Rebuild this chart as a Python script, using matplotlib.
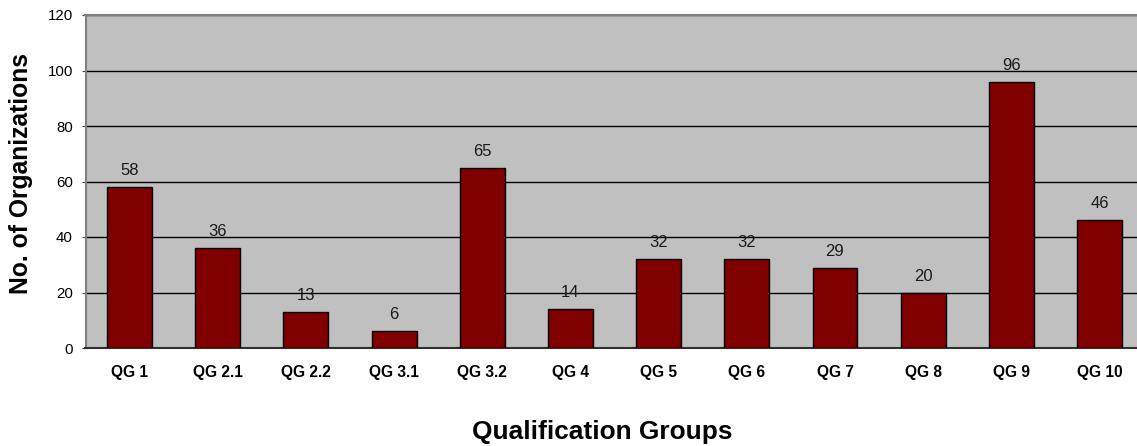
import matplotlib
matplotlib.use("Agg")
import matplotlib.pyplot as plt

categories = ["QG 1", "QG 2.1", "QG 2.2", "QG 3.1", "QG 3.2", "QG 4",
              "QG 5", "QG 6", "QG 7", "QG 8", "QG 9", "QG 10"]
values = [58, 36, 13, 6, 65, 14, 32, 32, 29, 20, 96, 46]
yticks = [0, 20, 40, 60, 80, 100, 120]

plt.rcParams['font.family'] = ['Liberation Sans', 'DejaVu Sans']

fig = plt.figure(figsize=(11.37, 4.46), dpi=100)
W, H = 1137, 446
left, right, top, bottom = 85.5, 1143.6, 15, 348
ax = fig.add_axes([left / W, 1 - bottom / H, (right - left) / W, (bottom - top) / H])
ax.set_facecolor('#C0C0C0')

x = list(range(len(categories)))
ax.bar(x, values, width=0.51, color='#800000', edgecolor='black', linewidth=1.0, zorder=3)
ax.set_xlim(-0.5, len(categories) - 0.5)
ax.set_ylim(0, 120)
ax.set_yticks(yticks)
ax.yaxis.grid(True, color='black', linewidth=1.0, zorder=1)
ax.set_axisbelow(True)

for xi, v in zip(x, values):
    ax.annotate(str(v), (xi, v), xytext=(0, 8.6), textcoords='offset points',
                ha='center', va='baseline', fontsize=12, color='#1a1a1a', zorder=4)

ax.set_xticks(x)
ax.set_xticklabels(categories, fontsize=11.2, fontweight='bold')
ax.tick_params(axis='x', length=0, pad=12)
ax.tick_params(axis='y', length=3, color='#404040', labelsize=10.8, pad=6)

for s in ['left', 'top']:
    ax.spines[s].set_color('#808080')
    ax.spines[s].set_linewidth(1.5)
ax.spines['bottom'].set_color('#303030')
ax.spines['bottom'].set_linewidth(1.5)
ax.spines['right'].set_visible(False)

fig.text(21 / W, 1 - 174 / H, "No. of Organizations", rotation=90, ha='center', va='center',
         fontsize=17.7, fontweight='bold')
fig.text(602 / W, 1 - 439 / H, "Qualification Groups", ha='center', va='baseline',
         fontsize=18.9, fontweight='bold')

fig.savefig("out.png", dpi=100)
